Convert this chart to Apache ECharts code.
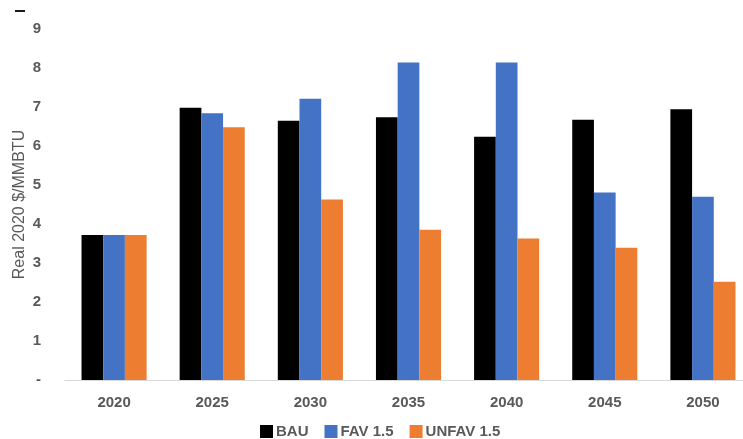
<!DOCTYPE html>
<html>
<head>
<meta charset="utf-8">
<style>
  html, body { margin: 0; padding: 0; background: #ffffff; }
  #chart { width: 743px; height: 439px; }
</style>
<script src="https://cdn.jsdelivr.net/npm/echarts@6/dist/echarts.min.js"></script>
</head>
<body>
<div id="chart"></div>
<script>
// Gas price outlook by scenario, real 2020 $/MMBTU
const years = ['2020', '2025', '2030', '2035', '2040', '2045', '2050'];
const bau   = [3.72, 6.98, 6.65, 6.74, 6.24, 6.67, 6.94];
const fav   = [3.72, 6.84, 7.21, 8.14, 8.14, 4.81, 4.70];
const unfav = [3.72, 6.48, 4.63, 3.85, 3.63, 3.39, 2.52];
const yTicks = ['-', '1', '2', '3', '4', '5', '6', '7', '8', '9'];

const labelColor = '#595959';
const labelFont = 'Liberation Sans';

const chart = echarts.init(document.getElementById('chart'));

const barStyle = (color) => ({
  type: 'bar',
  barWidth: 21.7,
  barGap: '0%',
  itemStyle: { color: color },
  emphasis: { disabled: true }
});

chart.setOption({
  animation: false,
  textStyle: { fontFamily: labelFont },
  // the plot runs slightly past the right edge of the canvas
  grid: { left: 65, right: -9, top: 29, bottom: 59, containLabel: false, outerBoundsMode: 'none' },
  legend: {
    left: 255,
    top: 419,
    icon: 'rect',
    itemWidth: 13,
    itemHeight: 13,
    itemGap: 16,
    textStyle: { color: labelColor, fontSize: 15, fontWeight: 'bold', fontFamily: labelFont, padding: [0, 0, 0, -2] },
    data: ['BAU', 'FAV 1.5', 'UNFAV 1.5']
  },
  xAxis: {
    type: 'category',
    data: years,
    axisLine: { lineStyle: { color: '#d9d9d9', width: 1 } },
    axisTick: { show: false },
    axisLabel: { color: labelColor, fontSize: 15, fontWeight: 'bold', margin: 15 }
  },
  yAxis: {
    type: 'value',
    min: 0,
    max: 9,
    interval: 1,
    name: 'Real 2020 $/MMBTU',
    nameLocation: 'middle',
    nameGap: 37,
    nameMoveOverlap: false,
    nameTextStyle: { color: labelColor, fontSize: 16, fontFamily: labelFont },
    axisLine: { show: false },
    axisTick: { show: false },
    splitLine: { show: false },
    axisLabel: {
      color: labelColor,
      fontSize: 15,
      fontWeight: 'bold',
      margin: 24,
      formatter: (v) => yTicks[Math.round(v)]
    }
  },
  series: [
    Object.assign(barStyle('#000000'), { name: 'BAU', data: bau }),
    Object.assign(barStyle('#4472c4'), { name: 'FAV 1.5', data: fav }),
    Object.assign(barStyle('#ed7d31'), { name: 'UNFAV 1.5', data: unfav })
  ],
  graphic: [
    { type: 'rect', left: 15, top: 10, shape: { width: 10, height: 2 }, style: { fill: '#1a1a1a' }, silent: true }
  ]
});
</script>
</body>
</html>
